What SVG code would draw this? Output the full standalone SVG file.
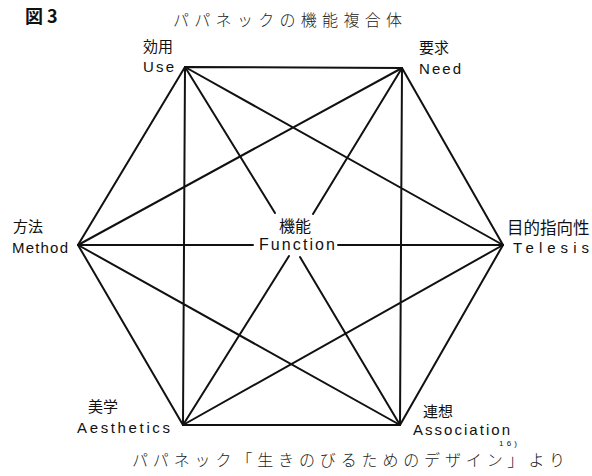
<svg xmlns="http://www.w3.org/2000/svg" width="592" height="476" viewBox="0 0 592 476">
<style>
.ln{stroke:#111;stroke-width:2;fill:none;stroke-linecap:round}
.jp{font-family:"Noto Sans CJK JP","Noto Sans",sans-serif;fill:#111;font-size:15px}
.en{font-family:"Liberation Sans",Arial,sans-serif;fill:#111;font-size:15px}
.ttl{font-family:"Noto Sans CJK JP",sans-serif;fill:#222;font-size:16px;font-weight:300}
</style>
<rect width="592" height="476" fill="#fff"/>
<text class="jp" x="25" y="23" style="font-size:18px;font-weight:bold">図 3</text>
<text class="ttl" x="173" y="26" textLength="229" lengthAdjust="spacing">パパネックの機能複合体</text>
<g id="connectors">
<path class="ln" d="M185,67 L402,68 L503,245 L400,425 L183,425 L78,245 Z"/>
<path class="ln" d="M185,67 L503,245 M402,68 L400,425 M503,245 L183,425 M400,425 L78,245 M183,425 L185,67 M78,245 L402,68"/>
<path class="ln" d="M185,67 L275,213 M300,257 L400,425 M402,68 L313,214 M289,256 L183,425 M78,245 L253,245 M338,245 L503,245"/>
</g>
<g id="use">
<text class="jp" x="143" y="52">効用</text>
<text class="en" x="143" y="72" textLength="31" lengthAdjust="spacing">Use</text>
</g>
<g id="need">
<text class="jp" x="419" y="53">要求</text>
<text class="en" x="419" y="74" textLength="42" lengthAdjust="spacing">Need</text>
</g>
<g id="method">
<text class="jp" x="13" y="232">方法</text>
<text class="en" x="12" y="253" textLength="56" lengthAdjust="spacing">Method</text>
</g>
<g id="telesis">
<text class="jp" x="507" y="234" style="font-size:16.5px">目的指向性</text>
<text class="en" x="513" y="253" textLength="76" lengthAdjust="spacing">Telesis</text>
</g>
<g id="function">
<text class="jp" x="279" y="232" style="font-size:16px">機能</text>
<text class="en" x="259" y="250" style="font-size:16px" textLength="76" lengthAdjust="spacing">Function</text>
</g>
<g id="aesthetics">
<text class="jp" x="88" y="412">美学</text>
<text class="en" x="77" y="433" textLength="93" lengthAdjust="spacing">Aesthetics</text>
</g>
<g id="association">
<text class="jp" x="423" y="417">連想</text>
<text class="en" x="413" y="435" textLength="97" lengthAdjust="spacing">Association</text>
</g>
<text class="ttl" x="132" y="466" textLength="433" lengthAdjust="spacing">パパネック「生きのびるためのデザイン」より</text>
<text class="en" x="499" y="446" style="font-size:8px" textLength="18" lengthAdjust="spacing">16)</text>
</svg>
